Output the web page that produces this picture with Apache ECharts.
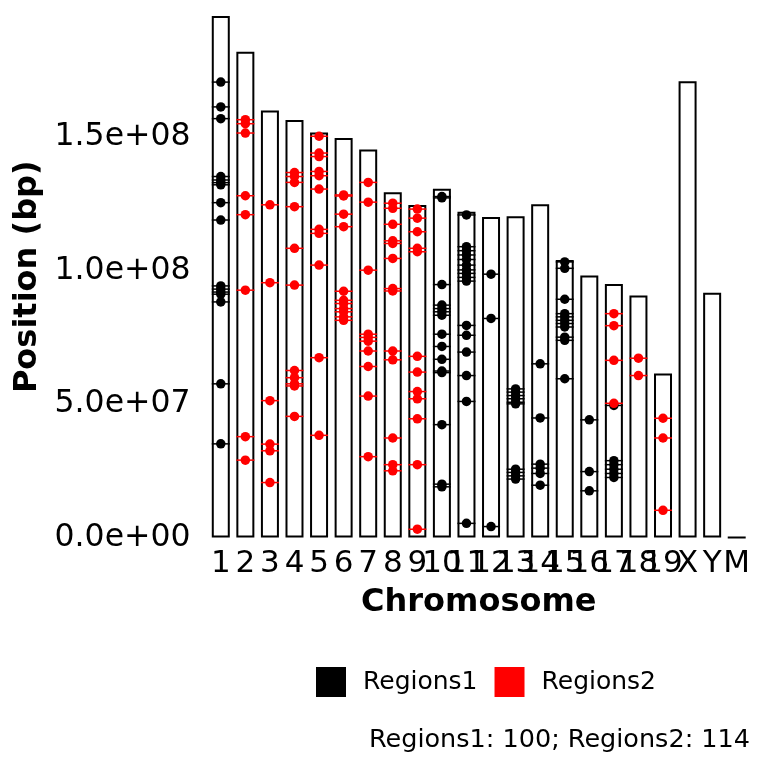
<!DOCTYPE html>
<html>
<head>
<meta charset="utf-8">
<script src="https://cdn.jsdelivr.net/npm/echarts@6/dist/echarts.min.js"></script>
<style>
  html, body { margin: 0; padding: 0; background: #fff; }
  #main { width: 768px; height: 768px; }
</style>
</head>
<body>
<div id="main"></div>
<script>
// chromosome names and lengths (Mb)
var chromNames = ['1', '2', '3', '4', '5', '6', '7', '8', '9', '10', '11', '12', '13', '14', '15', '16', '17', '18', '19', 'X', 'Y', 'M'];
var chromLengths = [195.47, 182.11, 160.04, 156.51, 151.83, 149.74, 145.44, 129.40, 124.60, 130.69, 122.08, 120.13, 120.42, 124.90, 104.04, 98.21, 94.99, 90.70, 61.43, 171.03, 91.74, 0.016];
var yTicks = [0, 50, 100, 150];

// region positions [chromosome, Mb]
var regions1 = [
    ['1', 170.7], ['1', 161.4], ['1', 157.0], ['1', 135.3], ['1', 134.0], ['1', 133.0], ['1', 132.2], ['1', 125.5],
    ['1', 119.0], ['1', 94.3], ['1', 93.1], ['1', 92.0], ['1', 91.2], ['1', 88.3], ['1', 57.6], ['1', 35.1],
    ['10', 127.8], ['10', 127.3], ['10', 94.8], ['10', 87.1], ['10', 85.8], ['10', 84.6], ['10', 83.3], ['10', 76.2],
    ['10', 71.6], ['10', 66.8], ['10', 62.4], ['10', 61.8], ['10', 42.3], ['10', 20.0], ['10', 19.0],
    ['11', 120.9], ['11', 109.0], ['11', 107.5], ['11', 105.9], ['11', 104.2], ['11', 102.1], ['11', 100.3], ['11', 99.0],
    ['11', 97.5], ['11', 96.1], ['11', 79.5], ['11', 75.8], ['11', 69.5], ['11', 60.7], ['11', 51.0], ['11', 5.3],
    ['12', 98.7], ['12', 82.1], ['12', 4.1],
    ['13', 55.7], ['13', 54.5], ['13', 53.2], ['13', 52.0], ['13', 50.7], ['13', 50.1], ['13', 25.6], ['13', 24.4],
    ['13', 23.1], ['13', 21.9],
    ['14', 65.1], ['14', 44.8], ['14', 27.5], ['14', 26.0], ['14', 24.0], ['14', 19.6],
    ['15', 103.3], ['15', 100.9], ['15', 89.3], ['15', 83.9], ['15', 82.7], ['15', 81.4], ['15', 80.2], ['15', 78.9],
    ['15', 75.1], ['15', 73.9], ['15', 59.5],
    ['16', 44.1], ['16', 24.7], ['16', 17.5],
    ['17', 49.5], ['17', 28.8], ['17', 27.3], ['17', 25.6], ['17', 24.0], ['17', 22.5]
];
var regions2 = [
    ['2', 156.6], ['2', 155.1], ['2', 151.6], ['2', 128.1], ['2', 121.0], ['2', 92.7], ['2', 37.8], ['2', 29.0],
    ['3', 124.7], ['3', 95.5], ['3', 51.3], ['3', 35.0], ['3', 32.5], ['3', 20.6],
    ['4', 136.8], ['4', 135.3], ['4', 133.1], ['4', 124.0], ['4', 108.4], ['4', 94.6], ['4', 62.6], ['4', 59.9],
    ['4', 57.6], ['4', 56.8], ['4', 45.4],
    ['5', 150.4], ['5', 144.1], ['5', 142.8], ['5', 137.2], ['5', 135.6], ['5', 130.6], ['5', 115.5], ['5', 114.0],
    ['5', 102.1], ['5', 67.4], ['5', 38.3],
    ['6', 128.4], ['6', 128.0], ['6', 121.2], ['6', 116.5], ['6', 92.3], ['6', 88.9], ['6', 87.7], ['6', 85.8],
    ['6', 84.6], ['6', 82.7], ['6', 81.4],
    ['7', 133.1], ['7', 125.7], ['7', 100.2], ['7', 76.2], ['7', 75.0], ['7', 73.6], ['7', 69.9], ['7', 64.1],
    ['7', 53.0], ['7', 30.3],
    ['8', 125.3], ['8', 123.4], ['8', 117.4], ['8', 111.2], ['8', 110.2], ['8', 104.6], ['8', 93.3], ['8', 92.4],
    ['8', 69.9], ['8', 66.6], ['8', 37.3], ['8', 27.3], ['8', 25.0],
    ['9', 123.1], ['9', 119.7], ['9', 114.6], ['9', 108.4], ['9', 107.1], ['9', 67.9], ['9', 62.0], ['9', 54.7],
    ['9', 52.0], ['9', 44.5], ['9', 27.3], ['9', 3.1],
    ['17', 83.9], ['17', 79.4], ['17', 66.4], ['17', 50.3],
    ['18', 67.2], ['18', 60.7],
    ['19', 44.7], ['19', 37.3], ['19', 10.2]
];
var counts = 'Regions1: 100; Regions2: 114';

var font = 'DejaVu Sans';

function sciLabel(v) {
    // 1.5e+8 -> 1.5e+08
    let s = (v * 1e6).toExponential(1);
    return s.replace(/e([+-])(\d)$/, 'e$10$2');
}

var myChart = echarts.init(document.getElementById('main'));

var option = {
    animation: false,
    backgroundColor: '#fff',
    grid: { left: 208.5, right: 19, top: 16, bottom: 230.5 },
    legend: {
        left: 316,
        top: 667,
        padding: 0,
        itemWidth: 30,
        itemHeight: 30,
        itemGap: 17,
        data: [{ name: 'Regions1', icon: 'rect' }, { name: 'Regions2', icon: 'rect' }],
        textStyle: { fontFamily: font, fontSize: 25, color: '#000', padding: [0, 0, 0, 12] }
    },
    graphic: [{
        type: 'text',
        style: {
            text: counts, x: 750, y: 740, align: 'right', verticalAlign: 'middle',
            font: '25.5px "DejaVu Sans"', fill: '#000'
        }
    }],
    xAxis: {
        type: 'category',
        data: chromNames,
        name: 'Chromosome',
        nameLocation: 'middle',
        nameGap: 49,
        nameTextStyle: { fontFamily: font, fontSize: 32, fontWeight: 'bold', color: '#000' },
        axisLine: { show: false },
        axisTick: { show: false },
        axisLabel: { interval: 0, margin: 11, fontFamily: font, fontSize: 31, color: '#000' }
    },
    yAxis: {
        type: 'value',
        min: 0,
        max: chromLengths[0],
        interval: 50,
        name: 'Position (bp)',
        nameLocation: 'middle',
        nameGap: 162,
        nameTextStyle: { fontFamily: font, fontSize: 32, fontWeight: 'bold', color: '#000' },
        axisLine: { show: false },
        axisTick: { show: false },
        splitLine: { show: false },
        axisLabel: {
            margin: 18, fontFamily: font, fontSize: 31.5, color: '#000', showMaxLabel: false,
            formatter: function(v) { return yTicks.indexOf(v) >= 0 ? sciLabel(v) : ''; }
        }
    },
    series: [{
        name: 'chromosomes',
        type: 'bar',
        data: chromLengths,
        barWidth: 18,
        silent: true,
        itemStyle: { color: '#fff', borderColor: '#000', borderWidth: 2 },
        z: 1
    }, {
        name: 'Regions1', type: 'scatter', data: regions1, symbol: 'rect', symbolSize: [18, 1.5],
        itemStyle: { color: '#000', opacity: 1 }, z: 3
    }, {
        name: 'Regions1', type: 'scatter', data: regions1, symbol: 'circle', symbolSize: 9.5,
        itemStyle: { color: '#000', opacity: 1 }, z: 4
    }, {
        name: 'Regions2', type: 'scatter', data: regions2, symbol: 'rect', symbolSize: [18, 1.5],
        itemStyle: { color: '#ff0000', opacity: 1 }, z: 5
    }, {
        name: 'Regions2', type: 'scatter', data: regions2, symbol: 'circle', symbolSize: 9.5,
        itemStyle: { color: '#ff0000', opacity: 1 }, z: 6
    }]
};

myChart.setOption(option);
</script>
</body>
</html>
